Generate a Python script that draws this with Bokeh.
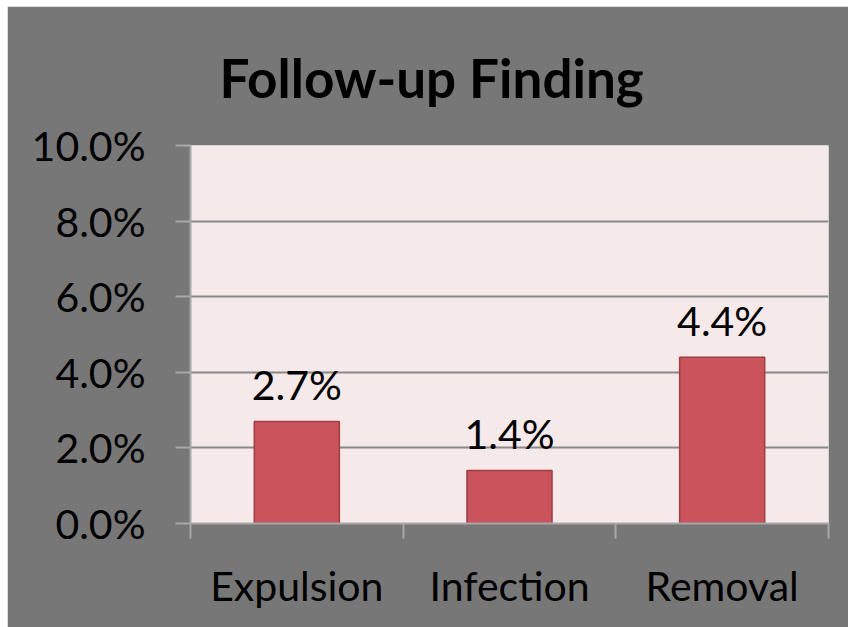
from bokeh.plotting import figure
from bokeh.models import Range1d, FixedTicker, NumeralTickFormatter, ColumnDataSource
from bokeh.core.properties import value
from bokeh.embed import file_html
from bokeh.resources import INLINE

title_text = "Follow-up Finding"
categories = ["Expulsion", "Infection", "Removal"]
values = [0.027, 0.014, 0.044]
value_labels = ["2.7%", "1.4%", "4.4%"]
y_ticks = [0.0, 0.02, 0.04, 0.06, 0.08, 0.10]

FONT = "Lato"
BG = "#777777"
PLOT_BG = "#f5e9e9"
BAR = "#cb535b"
BAR_EDGE = "#9e3f46"
AXIS = "#a8a8a8"
GRID = "#8a8a8a"

xs = [i + 0.5 for i in range(len(categories))]
src = ColumnDataSource(dict(x=xs, top=values, label=value_labels))

# figure placed at (7, 6) inside the window via margin
p = figure(width=841, height=621, output_backend="svg", toolbar_location=None,
           x_range=Range1d(0, len(categories)), y_range=Range1d(0, 0.10),
           min_border_left=183, min_border_right=20, min_border_top=139,
           min_border_bottom=104)
p.margin = (6, 0, 0, 7)

p.background_fill_color = PLOT_BG
p.border_fill_color = BG
p.outline_line_color = None

p.title.text = title_text
p.title.text_font = FONT
p.title.text_font_style = "bold"
p.title.text_font_size = "53px"
p.title.text_color = "black"
p.title.align = "left"
p.title.offset = 29
p.title.standoff = 74

p.vbar(x="x", top="top", width=0.4, bottom=0, source=src,
       fill_color=BAR, line_color=BAR_EDGE, line_width=1.5)

p.text(x="x", y="top", text="label", source=src, text_align="center",
       text_baseline="alphabetic", y_offset=-37, text_font=value(FONT),
       text_font_size="41px", text_color="black")

# y axis
ya = p.yaxis[0]
ya.ticker = FixedTicker(ticks=y_ticks, minor_ticks=[])
ya.formatter = NumeralTickFormatter(format="0.0%")
ya.major_label_text_font = FONT
ya.major_label_text_font_size = "41px"
ya.major_label_text_color = "black"
ya.major_tick_out = 15
ya.major_tick_in = 0
ya.major_tick_line_color = AXIS
ya.major_tick_line_width = 2
ya.axis_line_color = AXIS
ya.axis_line_width = 2
ya.major_label_standoff = 30

# x axis
xa = p.xaxis[0]
xa.ticker = FixedTicker(ticks=xs, minor_ticks=list(range(len(categories) + 1)))
xa.major_label_overrides = {x: c for x, c in zip(xs, categories)}
xa.major_label_text_font = FONT
xa.major_label_text_font_size = "41px"
xa.major_label_text_color = "black"
xa.major_tick_out = 0
xa.major_tick_in = 0
xa.minor_tick_out = 15
xa.minor_tick_in = 0
xa.minor_tick_line_color = AXIS
xa.minor_tick_line_width = 2
xa.axis_line_color = AXIS
xa.axis_line_width = 2
xa.major_label_standoff = 22

p.xgrid.grid_line_color = None
p.ygrid.ticker = FixedTicker(ticks=y_ticks, minor_ticks=[])
p.ygrid.grid_line_color = GRID
p.ygrid.grid_line_width = 2

open("out.html", "w").write(file_html(p, INLINE))
